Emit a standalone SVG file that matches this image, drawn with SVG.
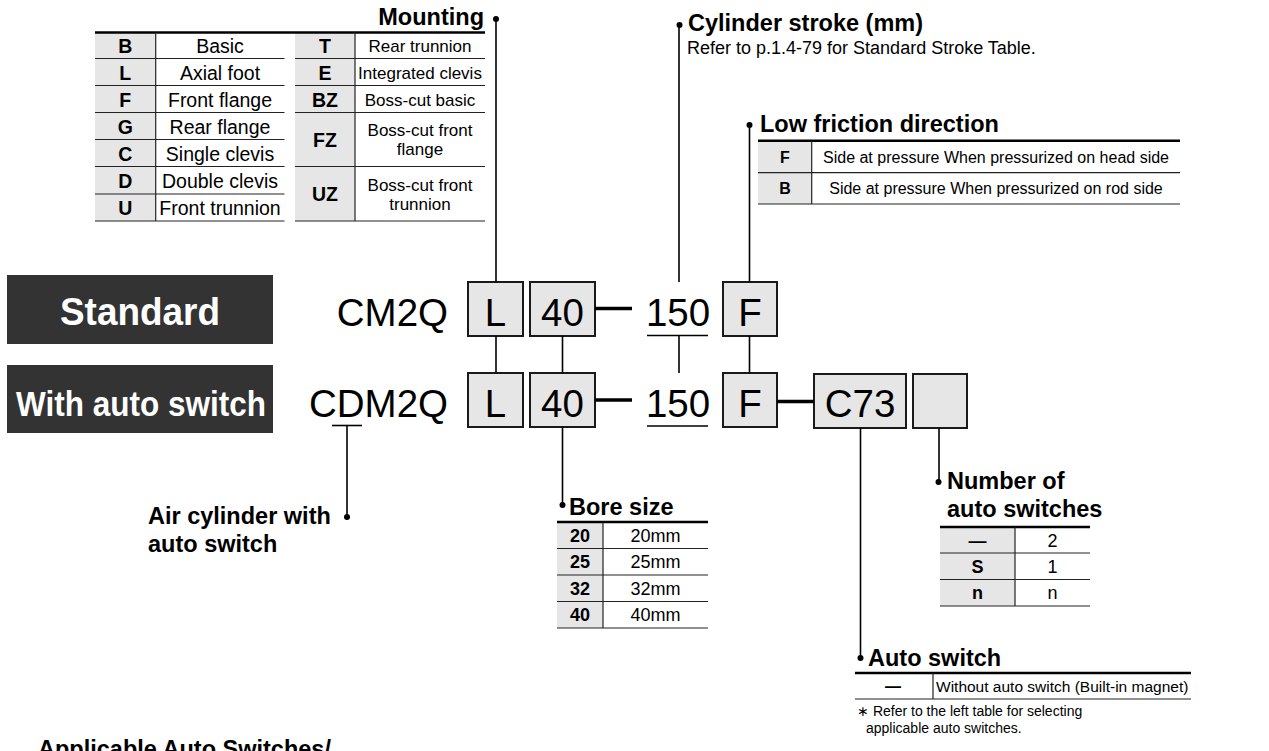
<svg xmlns="http://www.w3.org/2000/svg" width="1269" height="751" viewBox="0 0 1269 751">
<style>
  text { font-family: "Liberation Sans", Arial, Helvetica, sans-serif; fill: #000; }
  .ttl { font-weight: bold; font-size: 23.5px; }
  .note { font-size: 18px; }
  .c195 { font-size: 19.5px; text-anchor: middle; }
  .c17 { font-size: 17px; text-anchor: middle; }
  .c16 { font-size: 16px; text-anchor: middle; }
  .c18 { font-size: 18px; text-anchor: middle; }
  .b { font-weight: bold; }
  .code { font-size: 38.5px; text-anchor: middle; }
  .lab { font-weight: bold; fill: #fff; }
  .box { fill: #e6e6e6; stroke: #1a1a1a; stroke-width: 2; }
  .key { fill: #e6e6e6; }
  .thick { stroke: #000; stroke-width: 2.5; }
  .thin { stroke: #222; stroke-width: 1.2; }
  .ln { stroke: #000; stroke-width: 1.6; fill: none; }
  .dash { stroke: #000; stroke-width: 3.5; }
  .dot { fill: #000; }
</style>

<!-- Side labels -->
<g id="label-standard">
  <rect x="7" y="275" width="266" height="69" fill="#333"/>
  <text class="lab" x="140" y="325" font-size="38" text-anchor="middle" textLength="160" lengthAdjust="spacingAndGlyphs">Standard</text>
</g>
<g id="label-autoswitch">
  <rect x="7" y="365" width="266" height="68" fill="#333"/>
  <text class="lab" x="16" y="416" font-size="34.5" textLength="250" lengthAdjust="spacingAndGlyphs">With auto switch</text>
</g>

<!-- Model codes -->
<g id="code-standard">
  <text class="code" x="448" y="326" style="text-anchor:end">CM2Q</text>
  <rect class="box" x="468" y="282" width="55" height="54"/>
  <text class="code" x="495.5" y="326">L</text>
  <rect class="box" x="530" y="282" width="65" height="54"/>
  <text class="code" x="562.5" y="326">40</text>
  <text class="code" x="678" y="326">150</text>
  <rect class="box" x="723" y="282" width="54" height="54"/>
  <text class="code" x="750" y="326">F</text>
</g>
<g id="code-autoswitch">
  <text class="code" x="448" y="417" style="text-anchor:end">CDM2Q</text>
  <rect class="box" x="468" y="373" width="55" height="54"/>
  <text class="code" x="495.5" y="417">L</text>
  <rect class="box" x="530" y="373" width="65" height="54"/>
  <text class="code" x="562.5" y="417">40</text>
  <text class="code" x="678" y="417">150</text>
  <rect class="box" x="723" y="373" width="54" height="54"/>
  <text class="code" x="750" y="417">F</text>
  <rect class="box" x="814" y="374" width="92" height="54"/>
  <text class="code" x="860" y="417">C73</text>
  <rect class="box" x="913" y="374" width="54" height="54"/>
</g>

<!-- Connectors -->
<g id="connectors">
  <line class="dash" x1="595" y1="308.5" x2="632" y2="308.5"/>
  <line class="dash" x1="595" y1="400" x2="632" y2="400"/>
  <line class="dash" x1="777" y1="401.5" x2="814" y2="401.5"/>
  <line class="ln" x1="647" y1="335.5" x2="708" y2="335.5"/>
  <line class="ln" x1="647" y1="426" x2="708" y2="426"/>
  <line class="ln" x1="332" y1="425.5" x2="362" y2="425.5"/>
  <line class="ln" x1="347" y1="425.5" x2="347" y2="517"/>
  <line class="ln" x1="496" y1="19" x2="496" y2="282"/>
  <line class="ln" x1="496" y1="336" x2="496" y2="373"/>
  <line class="ln" x1="562.5" y1="336" x2="562.5" y2="373"/>
  <line class="ln" x1="562.5" y1="427" x2="562.5" y2="505"/>
  <line class="ln" x1="679" y1="25" x2="679" y2="282"/>
  <line class="ln" x1="679" y1="336" x2="679" y2="373"/>
  <line class="ln" x1="749.5" y1="125" x2="749.5" y2="282"/>
  <line class="ln" x1="749.5" y1="336" x2="749.5" y2="373"/>
  <line class="ln" x1="860.5" y1="428" x2="860.5" y2="658"/>
  <line class="ln" x1="939" y1="428" x2="939" y2="482"/>
  <circle class="dot" cx="496" cy="19" r="3"/>
  <circle class="dot" cx="679.5" cy="25" r="3"/>
  <circle class="dot" cx="749.5" cy="125" r="3"/>
  <circle class="dot" cx="562.5" cy="505" r="3"/>
  <circle class="dot" cx="938.5" cy="482" r="3"/>
  <circle class="dot" cx="860.5" cy="658" r="3"/>
  <circle class="dot" cx="347" cy="517" r="3"/>
</g>

<!-- Mounting -->
<g id="mounting">
  <text class="ttl" x="484" y="25" text-anchor="end">Mounting</text>
  <rect class="key" x="95" y="32.5" width="60.7" height="188.5"/>
  <rect class="key" x="295" y="32.5" width="60" height="188.5"/>
  <line class="thick" x1="95" y1="32.5" x2="485" y2="32.5"/>
  <line class="thin" x1="155.7" y1="32.5" x2="155.7" y2="221"/>
  <line class="thin" x1="355" y1="32.5" x2="355" y2="221"/>
  <g class="thin">
    <line x1="95" y1="58.5" x2="284.5" y2="58.5"/>
    <line x1="95" y1="85.5" x2="284.5" y2="85.5"/>
    <line x1="95" y1="112.5" x2="284.5" y2="112.5"/>
    <line x1="95" y1="139.5" x2="284.5" y2="139.5"/>
    <line x1="95" y1="166.5" x2="284.5" y2="166.5"/>
    <line x1="95" y1="194" x2="284.5" y2="194"/>
    <line x1="95" y1="221" x2="284.5" y2="221"/>
    <line x1="295" y1="58.5" x2="485" y2="58.5"/>
    <line x1="295" y1="85.5" x2="485" y2="85.5"/>
    <line x1="295" y1="112.5" x2="485" y2="112.5"/>
    <line x1="295" y1="166.5" x2="485" y2="166.5"/>
    <line x1="295" y1="221" x2="485" y2="221"/>
  </g>
  <g class="c195 b">
    <text x="125.3" y="53">B</text>
    <text x="125.3" y="80">L</text>
    <text x="125.3" y="107">F</text>
    <text x="125.3" y="134">G</text>
    <text x="125.3" y="161">C</text>
    <text x="125.3" y="188">D</text>
    <text x="125.3" y="215">U</text>
  </g>
  <g class="c195">
    <text x="220" y="53">Basic</text>
    <text x="220" y="80">Axial foot</text>
    <text x="220" y="107">Front flange</text>
    <text x="220" y="134">Rear flange</text>
    <text x="220" y="161">Single clevis</text>
    <text x="220" y="188">Double clevis</text>
    <text x="220" y="215">Front trunnion</text>
  </g>
  <g class="c195 b">
    <text x="325" y="53">T</text>
    <text x="325" y="80">E</text>
    <text x="325" y="107">BZ</text>
    <text x="325" y="147">FZ</text>
    <text x="325" y="201">UZ</text>
  </g>
  <g class="c17">
    <text x="420" y="52">Rear trunnion</text>
    <text x="420" y="79">Integrated clevis</text>
    <text x="420" y="106">Boss-cut basic</text>
    <text x="420" y="136">Boss-cut front</text>
    <text x="420" y="155">flange</text>
    <text x="420" y="191">Boss-cut front</text>
    <text x="420" y="210">trunnion</text>
  </g>
</g>

<!-- Cylinder stroke -->
<g id="stroke">
  <text class="ttl" x="688" y="31">Cylinder stroke (mm)</text>
  <text class="note" x="687" y="54">Refer to p.1.4-79 for Standard Stroke Table.</text>
</g>

<!-- Low friction direction -->
<g id="low-friction">
  <text class="ttl" x="760" y="132">Low friction direction</text>
  <rect class="key" x="758" y="140.7" width="53.7" height="63.3"/>
  <line class="thick" x1="758" y1="140.7" x2="1180" y2="140.7"/>
  <line class="thin" x1="811.7" y1="140.7" x2="811.7" y2="204"/>
  <line class="thin" x1="758" y1="172.7" x2="1180" y2="172.7"/>
  <line class="thin" x1="758" y1="204" x2="1180" y2="204"/>
  <text class="c16 b" x="785" y="162.5">F</text>
  <text class="c16 b" x="785" y="194">B</text>
  <text class="c16" x="996" y="162.5">Side at pressure When pressurized on head side</text>
  <text class="c16" x="996" y="194">Side at pressure When pressurized on rod side</text>
</g>

<!-- Bore size -->
<g id="bore-size">
  <text class="ttl" x="569" y="515">Bore size</text>
  <rect class="key" x="557" y="522" width="46" height="106"/>
  <line class="thick" x1="557" y1="522" x2="708" y2="522"/>
  <line class="thin" x1="603" y1="522" x2="603" y2="628"/>
  <line class="thin" x1="557" y1="548.5" x2="708" y2="548.5"/>
  <line class="thin" x1="557" y1="575" x2="708" y2="575"/>
  <line class="thin" x1="557" y1="601.5" x2="708" y2="601.5"/>
  <line class="thin" x1="557" y1="628" x2="708" y2="628"/>
  <g class="c18 b">
    <text x="580" y="541.5">20</text>
    <text x="580" y="568">25</text>
    <text x="580" y="594.5">32</text>
    <text x="580" y="621">40</text>
  </g>
  <g class="c18">
    <text x="655.5" y="541.5">20mm</text>
    <text x="655.5" y="568">25mm</text>
    <text x="655.5" y="594.5">32mm</text>
    <text x="655.5" y="621">40mm</text>
  </g>
</g>

<!-- Number of auto switches -->
<g id="number-switches">
  <text class="ttl" x="947" y="489">Number of</text>
  <text class="ttl" x="947" y="517">auto switches</text>
  <rect class="key" x="940" y="527" width="75" height="79"/>
  <line class="thick" x1="940" y1="527" x2="1090" y2="527"/>
  <line class="thin" x1="1015" y1="527" x2="1015" y2="606"/>
  <line class="thin" x1="940" y1="553" x2="1090" y2="553"/>
  <line class="thin" x1="940" y1="579.5" x2="1090" y2="579.5"/>
  <line class="thin" x1="940" y1="606" x2="1090" y2="606"/>
  <text class="c18 b" x="977.5" y="546.5">—</text>
  <text class="c18 b" x="977.5" y="573">S</text>
  <text class="c18 b" x="977.5" y="599">n</text>
  <text class="c18" x="1052.5" y="546.5">2</text>
  <text class="c18" x="1052.5" y="573">1</text>
  <text class="c18" x="1052.5" y="599">n</text>
</g>

<!-- Auto switch -->
<g id="auto-switch">
  <text class="ttl" x="868" y="666">Auto switch</text>
  <line class="thick" x1="855" y1="673" x2="1191" y2="673"/>
  <line class="thin" x1="933" y1="673" x2="933" y2="699"/>
  <line class="thin" x1="855" y1="699" x2="1191" y2="699"/>
  <text class="c16 b" x="893" y="691.5">—</text>
  <text x="936" y="691.5" font-size="15.5">Without auto switch (Built-in magnet)</text>
  <text x="857" y="716" font-size="14">∗ Refer to the left table for selecting</text>
  <text x="866" y="733" font-size="14">applicable auto switches.</text>
</g>

<!-- Air cylinder with auto switch -->
<g id="air-cylinder">
  <text class="ttl" x="148" y="524">Air cylinder with</text>
  <text class="ttl" x="148" y="552">auto switch</text>
</g>

<!-- Bottom heading (cut off at the lower edge, as in the reference) -->
<g id="applicable-heading">
  <text class="ttl" x="38" y="757">Applicable Auto Switches/</text>
</g>
</svg>
